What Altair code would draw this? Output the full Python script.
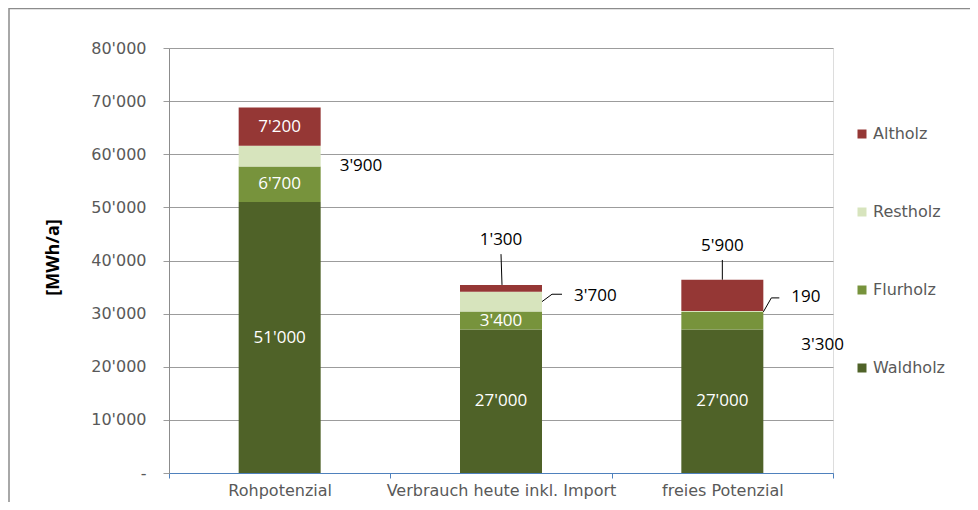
import altair as alt
import pandas as pd

categories = ["Rohpotenzial", "Verbrauch heute inkl. Import", "freies Potenzial"]
types = ["Waldholz", "Flurholz", "Restholz", "Altholz"]
waldholz = [51000, 27000, 27000]
flurholz = [6700, 3400, 3300]
restholz = [3900, 3700, 190]
altholz = [7200, 1300, 5900]
# which segment labels sit inside the bar (white)
inside = {
    "Waldholz": [True, True, True],
    "Flurholz": [True, True, False],
    "Restholz": [False, False, False],
    "Altholz": [True, False, False],
}
colors = {"Altholz": "#953735", "Restholz": "#D7E4BD", "Flurholz": "#77933C", "Waldholz": "#4F6228"}
legend_order = ["Altholz", "Restholz", "Flurholz", "Waldholz"]

# outside labels: category, type, y (MWh/a), dx px, align
out_cat = ["Rohpotenzial", "Verbrauch heute inkl. Import", "Verbrauch heute inkl. Import",
           "freies Potenzial", "freies Potenzial", "freies Potenzial"]
out_type = ["Restholz", "Altholz", "Restholz", "Altholz", "Restholz", "Flurholz"]
out_y = [57800, 43900, 33330, 42750, 33150, 24100]
out_dx = [60, 0, 73, 0, 69, 79]
out_align = ["left", "center", "left", "center", "left", "left"]

# leader lines: category, y start, y end, x offset start, x offset end
seg_cat = ["Verbrauch heute inkl. Import"] * 3 + ["freies Potenzial"] * 3
seg_y1 = [41200, 32260, 33650, 40100, 30320, 32960]
seg_y2 = [35400, 33650, 33650, 36390, 32960, 32960]
seg_o1 = [0, 41, 51, 0, 41, 49]
seg_o2 = [1, 51, 61, 0, 49, 57]

series = {"Waldholz": waldholz, "Flurholz": flurholz, "Restholz": restholz, "Altholz": altholz}


def fmt(v):
    return f"{v:,}".replace(",", "'")


rows = []
for ti, t in enumerate(types):
    for ci, c in enumerate(categories):
        v = series[t][ci]
        rows.append({"cat": c, "type": t, "value": v, "ord": ti,
                     "label": fmt(v), "inside": inside[t][ci]})
df = pd.DataFrame(rows)

label_font = "DejaVu Sans"
grey_txt = "#595959"

xenc = alt.X("cat:N", sort=categories,
             scale=alt.Scale(paddingInner=0, paddingOuter=0),
             axis=alt.Axis(title=None, labelAngle=0, tickBand="extent",
                           domainColor="#4F81BD", tickColor="#4F81BD", tickSize=5,
                           labelPadding=4, labelFont=label_font, labelFontSize=16,
                           labelColor=grey_txt, grid=False, labelBaseline="top",
                           labelLimit=0))

base = alt.Chart(df)

bars = base.mark_bar(size=82).encode(
    x=xenc,
    y=alt.Y("value:Q", stack="zero",
            scale=alt.Scale(domain=[0, 80000], nice=False),
            axis=alt.Axis(values=list(range(0, 80001, 10000)),
                          labelExpr="datum.value == 0 ? '-\u00a0\u00a0\u00a0' : replace(datum.label, ',', \"'\")",
                          title="[MWh/a]", titleFont="Open Sans", titleFontSize=18,
                          titleFontWeight="bold", titleColor="black", titleAngle=270,
                          titleX=-116, titleY=209, titleAlign="center", titleBaseline="middle",
                          grid=True, gridColor="#9C9C9C", domainColor="#8C8C8C",
                          tickColor="#9C9C9C", tickSize=6, labelPadding=17,
                          labelFont=label_font, labelFontSize=16, labelColor=grey_txt)),
    color=alt.Color("type:N",
                    scale=alt.Scale(domain=legend_order, range=[colors[t] for t in legend_order]),
                    legend=alt.Legend(title=None, orient="none", legendX=685, legendY=78,
                                      symbolType="square", symbolSize=81, symbolStrokeWidth=0,
                                      labelFont=label_font, labelFontSize=16, labelColor=grey_txt,
                                      rowPadding=62, padding=0, labelOffset=3)),
    order=alt.Order("ord:Q"),
)

inner = base.transform_stack(
    stack="value", groupby=["cat"], sort=[alt.SortField("ord")], as_=["v0", "v1"]
).transform_calculate(
    mid="(datum.v0 + datum.v1) / 2"
).transform_filter("datum.inside").mark_text(
    color="white", font="Open Sans", fontSize=17, baseline="middle"
).encode(x=alt.X("cat:N", sort=categories), y="mid:Q", text="label:N")

layers = [bars, inner]

odf = df.set_index(["cat", "type"])
for c, t, yv, dx, al in zip(out_cat, out_type, out_y, out_dx, out_align):
    d = pd.DataFrame([{"cat": c, "y": yv, "label": odf.loc[(c, t), "label"]}])
    layers.append(alt.Chart(d).mark_text(
        color="black", font="Open Sans", fontSize=17, baseline="middle", align=al, dx=dx
    ).encode(x=alt.X("cat:N", sort=categories), y="y:Q", text="label:N"))

for c, y1, y2, o1, o2 in zip(seg_cat, seg_y1, seg_y2, seg_o1, seg_o2):
    d = pd.DataFrame([{"cat": c, "y1": y1, "y2": y2}])
    layers.append(alt.Chart(d).mark_rule(
        color="black", strokeWidth=1, xOffset=o1, x2Offset=o2
    ).encode(x=alt.X("cat:N", sort=categories), x2="cat:N", y="y1:Q", y2="y2:Q"))

frame = alt.Chart(pd.DataFrame([{"a": 0}])).mark_rect(
    fill=None, stroke="#8C8C8C", strokeWidth=1.5
).encode(x=alt.value(-160), x2=alt.value(900), y=alt.value(-39.5), y2=alt.value(600))
layers.append(frame)

chart = alt.layer(*layers).properties(
    width=664, height=425,
    autosize=alt.AutoSizeParams(type="none"),
    padding={"left": 161, "top": 40, "right": 137, "bottom": 29},
).configure_view(strokeWidth=0).configure(background="white")

chart.save("out.html", embed_options={"renderer": "svg", "actions": False})
